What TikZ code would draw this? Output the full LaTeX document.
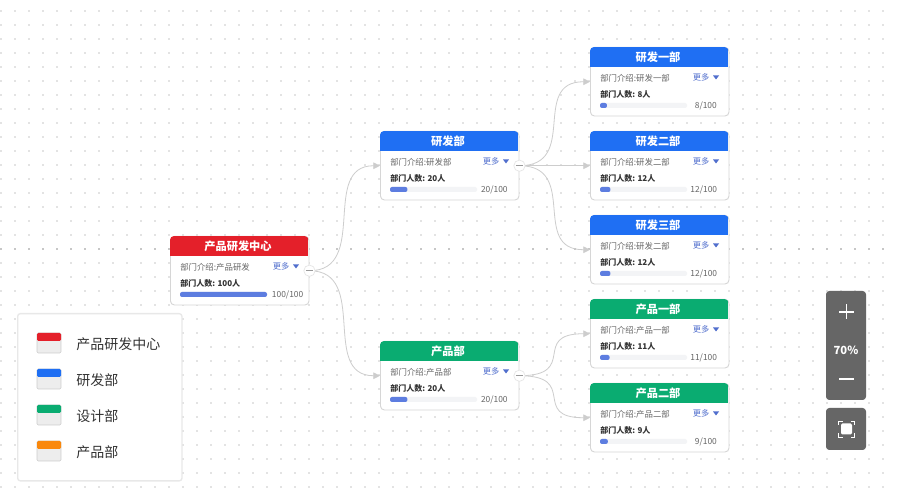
\documentclass[tikz,border=0pt]{standalone}
\usepackage{fontspec}
\setmainfont{Noto Sans CJK SC}
\usetikzlibrary{arrows.meta,calc}
\definecolor{headred}{RGB}{228,32,42}
\definecolor{headblue}{RGB}{31,111,243}
\definecolor{headgreen}{RGB}{10,172,113}
\definecolor{headorange}{RGB}{250,136,12}
\definecolor{barblue}{RGB}{93,125,224}
\definecolor{bartrack}{RGB}{243,244,246}
\definecolor{linkgrey}{RGB}{205,205,205}
\definecolor{textgrey}{RGB}{102,102,102}
\definecolor{textdark}{RGB}{51,51,51}
\definecolor{moreblue}{RGB}{80,110,205}
\definecolor{toolgrey}{RGB}{102,102,102}
\tikzset{
  griddot/.style={fill=black!11,draw=none},
  griddotdark/.style={fill=black!22,draw=none},
  cardbox/.style={draw=black!16,fill=white,rounded corners=3pt,minimum width=103.9pt,minimum height=51.4pt,inner sep=0pt,line width=0.7pt},
  cardtitle/.style={text=white,font=\fontsize{8.4}{10}\selectfont\bfseries,inner sep=0pt},
  cardtext/.style={text=textgrey,font=\fontsize{6.3}{8}\selectfont,inner sep=0pt},
  cardcount/.style={text=textdark,font=\fontsize{6}{8}\selectfont\bfseries,inner sep=0pt},
  cardmore/.style={text=moreblue,font=\fontsize{6.2}{8}\selectfont,inner sep=0pt},
  togglebtn/.style={circle,draw=black!10,fill=white,minimum size=8.5pt,inner sep=0pt,line width=0.5pt},
  linkline/.style={draw=linkgrey,line width=0.6pt,-{Triangle[length=5pt,width=5pt,fill=linkgrey]}},
  legendtext/.style={text=textdark,font=\fontsize{10.5}{12}\selectfont,inner sep=0pt,anchor=west},
  toolbox/.style={fill=toolgrey,rounded corners=2.5pt,draw=none},
}
% name, left, top, colour, title, department, count, value
\newcommand{\orgcard}[8]{
  \node[cardbox,anchor=north west] (#1) at (#2,#3) {};
  \begin{scope}
    \clip[rounded corners=3pt] (#2,#3) rectangle ++(138.5,68.5);
    \fill[#4] (#2,#3) rectangle ++(138.5,20.5);
  \end{scope}
  \node[cardtitle] (#1title) at ($(#2,#3)+(68,10.5)$) {#5};
  \node[cardtext,anchor=west] (#1intro) at ($(#2,#3)+(10,31)$) {部门介绍:#6};
  \node[cardmore,anchor=west] (#1more) at ($(#2,#3)+(102.5,30.5)$) {更多};
  \fill[moreblue] ($(#2,#3)+(123,28.5)$) -- ++(6,0) -- ++(-3,4) -- cycle;
  \node[cardcount,anchor=west] (#1count) at ($(#2,#3)+(10,47.5)$) {部门人数: #7人};
  \fill[bartrack,rounded corners=1.5pt] ($(#2,#3)+(10,56)$) rectangle ++(87,5);
  \fill[barblue,rounded corners=1.5pt] ($(#2,#3)+(10,56)$) rectangle ++({max(#8*0.87,6)},5);
  \node[cardtext,anchor=east] (#1value) at ($(#2,#3)+(#8*0.07+126.5,58.5)$) {#8/100};
}
\newcommand{\legendrow}[4]{
  \fill[black!7] (37,#2) rectangle ++(24,20);
  \draw[black!20,rounded corners=1pt] (37,#2) rectangle ++(24,20);
  \fill[#3,rounded corners=1pt] (37,#2) rectangle ++(24,8);
  \node[legendtext] (#1) at (76,#2+11) {#4};
}
\begin{document}
\begin{tikzpicture}[x=0.75pt,y=0.75pt,yscale=-1,xscale=1]
\useasboundingbox (0,0) rectangle (897,498);
\fill[white] (0,0) rectangle (897,498);
% background dots
\foreach \i in {0,...,63}{
  \foreach \j in {0,...,35}{
    \ifnum\j=17
      \fill[griddotdark] ({0.2+14*\i},{10.2+14*\j}) rectangle ++(1.4,1.4);
    \else
      \fill[griddot] ({0.2+14*\i},{10.2+14*\j}) rectangle ++(1.4,1.4);
    \fi
  }
}

% cards
\orgcard{center}{170}{236}{headred}{产品研发中心}{产品研发}{100}{100}
\orgcard{rd}{380}{131}{headblue}{研发部}{研发部}{20}{20}
\orgcard{product}{380}{341}{headgreen}{产品部}{产品部}{20}{20}
\orgcard{rdone}{590}{47}{headblue}{研发一部}{研发一部}{8}{8}
\orgcard{rdtwo}{590}{131}{headblue}{研发二部}{研发二部}{12}{12}
\orgcard{rdthree}{590}{215}{headblue}{研发三部}{研发二部}{12}{12}
\orgcard{prodone}{590}{299}{headgreen}{产品一部}{产品一部}{11}{11}
\orgcard{prodtwo}{590}{383}{headgreen}{产品二部}{产品二部}{9}{9}

% links
\draw[linkline] (center.east) .. controls ++(60,0) and ($(rd.west)+(-60,0)$) .. (rd.west);
\draw[linkline] (center.east) .. controls ++(60,0) and ($(product.west)+(-60,0)$) .. (product.west);
\draw[linkline] (rd.east) .. controls ++(60,0) and ($(rdone.west)+(-60,0)$) .. (rdone.west);
\draw[linkline] (rd.east) -- (rdtwo.west);
\draw[linkline] (rd.east) .. controls ++(60,0) and ($(rdthree.west)+(-60,0)$) .. (rdthree.west);
\draw[linkline] (product.east) .. controls ++(60,0) and ($(prodone.west)+(-60,0)$) .. (prodone.west);
\draw[linkline] (product.east) .. controls ++(60,0) and ($(prodtwo.west)+(-60,0)$) .. (prodtwo.west);

% collapse buttons
\foreach \n in {center,rd,product}{
  \node[togglebtn] (\n toggle) at (\n.east) {};
  \draw[black!40,line width=1pt] ($(\n toggle)+(-3.5,0)$) -- ($(\n toggle)+(3.5,0)$);
}

% legend
\node[draw=black!9,fill=white,rounded corners=2pt,anchor=north west,minimum width=123.2pt,minimum height=125.4pt,inner sep=0pt,line width=1pt] (legend) at (17,313) {};
\legendrow{legendred}{333}{headred}{产品研发中心}
\legendrow{legendblue}{369}{headblue}{研发部}
\legendrow{legendgreen}{405}{headgreen}{设计部}
\legendrow{legendorange}{441}{headorange}{产品部}

% zoom tools
\fill[toolbox] (826,291) rectangle (866,400);
\fill[toolbox] (826,408) rectangle (866,450);
\draw[white,line width=0.9pt] (839,312) -- (854,312) (846.5,304.5) -- (846.5,319.5);
\draw[white,line width=0.9pt] (839,379) -- (854,379);
\node[text=white,font=\fontsize{8.4}{10}\selectfont\bfseries,inner sep=0pt] (zoomlabel) at (846,350) {70\%};
\fill[white,rounded corners=1pt] (841,423.5) rectangle (852,434.5);
\draw[white,line width=0.7pt] (838.5,425) -- (838.5,421) -- (842.5,421) (850.5,421) -- (854.5,421) -- (854.5,425) (854.5,433) -- (854.5,437) -- (850.5,437) (842.5,437) -- (838.5,437) -- (838.5,433);
\end{tikzpicture}
\end{document}
